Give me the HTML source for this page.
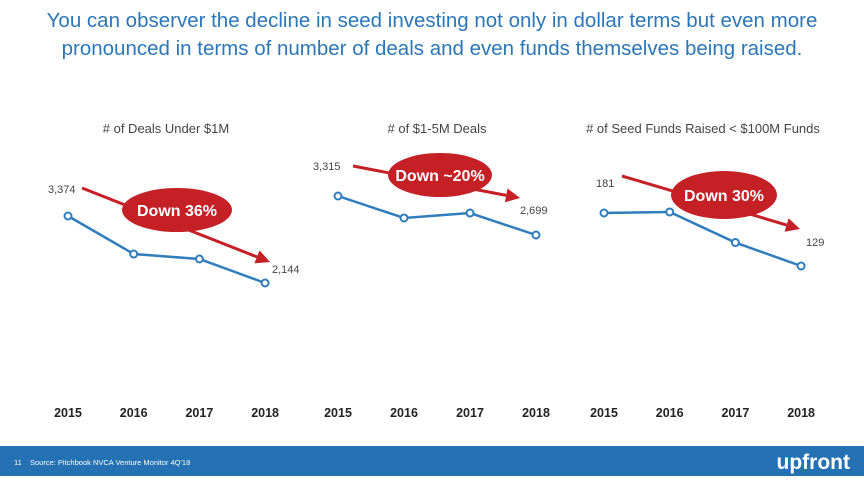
<!DOCTYPE html>
<html><head><meta charset="utf-8"><style>
html,body{margin:0;padding:0;background:#fff;}
#wrap{position:relative;width:864px;height:481px;overflow:hidden;font-family:"Liberation Sans",sans-serif;}
</style></head><body>
<div id="wrap">
<svg id="svg" width="864" height="481" xmlns="http://www.w3.org/2000/svg" font-family="Liberation Sans, sans-serif">
<text x="432" y="27" text-anchor="middle" font-size="20.5" fill="#2b77b8">You can observer the decline in seed investing not only in dollar terms but even more</text>
<text x="432" y="55" text-anchor="middle" font-size="20.5" fill="#2b77b8">pronounced in terms of number of deals and even funds themselves being raised.</text>
<rect x="0" y="446" width="864" height="30" fill="#2471b4"/>
<text x="14" y="465" font-size="7.5" fill="#fff">11</text>
<text x="30" y="465" font-size="7.5" fill="#fff">Source: Pitchbook NVCA Venture Monitor 4Q'18</text>
<text x="850" y="469" text-anchor="end" font-size="21" font-weight="bold" fill="#fff">upfront</text>
</svg>
</div>
<script>
const years = ["2015","2016","2017","2018"];
const titles = ["# of Deals Under $1M","# of $1-5M Deals","# of Seed Funds Raised < $100M Funds"];
const dealsUnder1M = [3374, 2676, 2585, 2144];
const deals1to5M = [3315, 2968, 3046, 2699];
const seedFunds = [181, 182, 152, 129];
const startLabels = ["3,374","3,315","181"];
const endLabels = ["2,144","2,699","129"];
const badges = ["Down 36%","Down ~20%","Down 30%"];

const svg = document.getElementById('svg');
const NS = 'http://www.w3.org/2000/svg';
function mk(tag, attrs, parent){const e=document.createElementNS(NS,tag);for(const k in attrs)e.setAttribute(k,attrs[k]);(parent||svg).appendChild(e);return e;}

const panels = [
 {data: dealsUnder1M, x0:68, dx:65.7, yTop:216, yBot:283, title:166, arrow:[82,188,270,262], ell:[177,210,55,22], sl:[48,193], el:[272,273]},
 {data: deals1to5M, x0:338, dx:66, yTop:196, yBot:235, title:437, arrow:[353,166,520,198], ell:[440,175,52,22], sl:[313,170], el:[520,214]},
 {data: seedFunds, x0:604, dx:65.7, yTop:213, yBot:266, title:703, arrow:[622,176,800,229], ell:[724,195,53,24], sl:[596,187], el:[806,246]}
];

panels.forEach((p,i)=>{
  const g = mk('g',{});
  
  
  const first=p.data[0], last=p.data[p.data.length-1];
  const yScale = v => p.yTop + (first - v)/(first - last)*(p.yBot - p.yTop);
  const xScale = j => p.x0 + j*p.dx;
  const t = mk('text',{x:p.title,y:133,'text-anchor':'middle','font-size':13,fill:'#444'},g);
  t.textContent = titles[i];
  
  
  years.forEach((yr,j)=>{
    const l = mk('text',{x:xScale(j),y:417,'text-anchor':'middle','font-size':12.5,'font-weight':'bold',fill:'#222'},g);
    l.textContent = yr;
    
    
  });
  const pts = p.data.map((v,j)=>xScale(j)+','+yScale(v)).join(' ');
  const line = mk('polyline',{points:pts,fill:'none',stroke:'#2f7dbd','stroke-width':2.5},g);
  
  
  p.data.forEach((v,j)=>{
    const c = mk('circle',{cx:xScale(j),cy:yScale(v),r:3.5,fill:'#fff',stroke:'#2f7dbd','stroke-width':2},g);
    
    
  });
  const [ax1,ay1,ax2,ay2]=p.arrow;
  const ang=Math.atan2(ay2-ay1,ax2-ax1);
  const bx=ax2-14*Math.cos(ang), by=ay2-14*Math.sin(ang);
  const ar = mk('line',{x1:ax1,y1:ay1,x2:bx,y2:by,stroke:'#c42026','stroke-width':3},g);
  
  
  const px=-Math.sin(ang)*7, py=Math.cos(ang)*7;
  const head = mk('polygon',{points:`${ax2},${ay2} ${bx+px},${by+py} ${bx-px},${by-py}`,fill:'#c42026'},g);
  
  
  const e = mk('ellipse',{cx:p.ell[0],cy:p.ell[1],rx:p.ell[2],ry:p.ell[3],fill:'#c42026'},g);
  
  
  const bt = mk('text',{x:p.ell[0],y:p.ell[1]+6,'text-anchor':'middle','font-size':16,'font-weight':'bold',fill:'#fff'},g);
  bt.textContent = badges[i];
  
  
  const s = mk('text',{x:p.sl[0],y:p.sl[1],'font-size':11,fill:'#444'},g);
  s.textContent = startLabels[i];
  
  
  const en = mk('text',{x:p.el[0],y:p.el[1],'font-size':11,fill:'#444'},g);
  en.textContent = endLabels[i];
  
  
});
</script>
</body></html>
